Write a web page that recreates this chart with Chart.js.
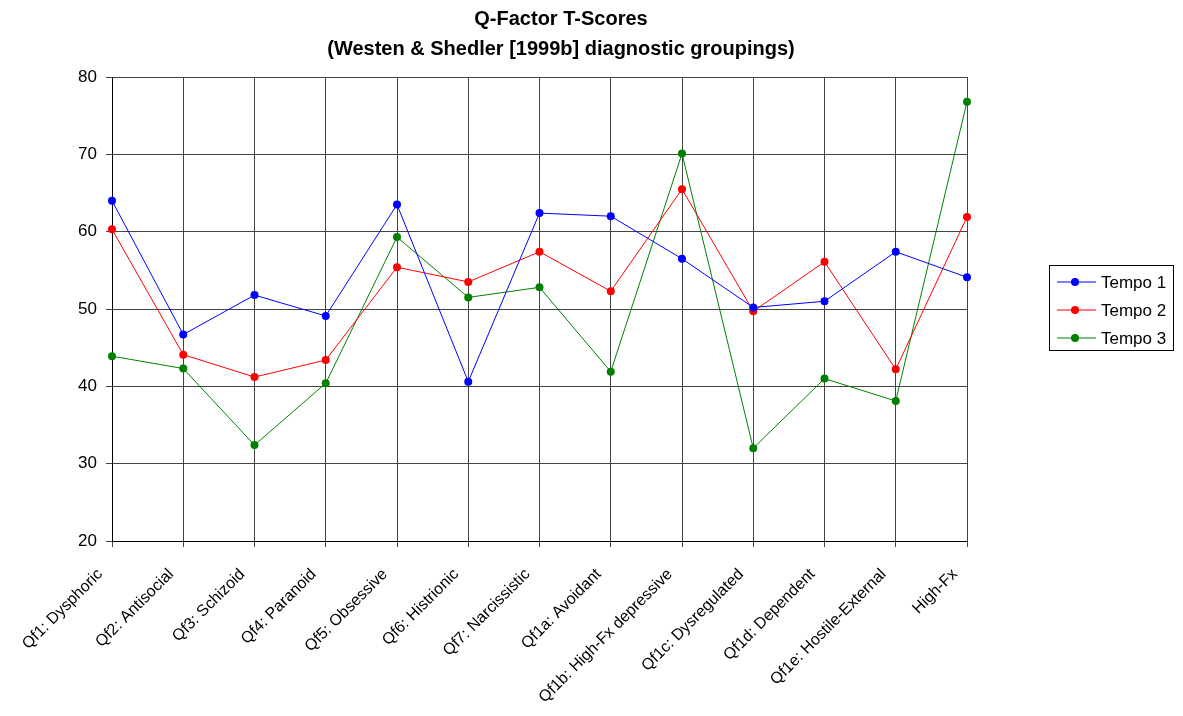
<!DOCTYPE html>
<html>
<head>
<meta charset="utf-8">
<script src="https://cdn.jsdelivr.net/npm/chart.js@4"></script>
<style>
    html, body { margin: 0; padding: 0; background: #fff; }
    #wrap { width: 1183px; height: 716px; }
</style>
</head>
<body>
<div id="wrap"><canvas id="qfactorChart" width="1183" height="716"></canvas></div>
<script>
const categories = [
    'Qf1: Dysphoric', 'Qf2: Antisocial', 'Qf3: Schizoid', 'Qf4: Paranoid',
    'Qf5: Obsessive', 'Qf6: Histrionic', 'Qf7: Narcissistic', 'Qf1a: Avoidant',
    'Qf1b: High-Fx depressive', 'Qf1c: Dysregulated', 'Qf1d: Dependent',
    'Qf1e: Hostile-External', 'High-Fx'
];
const tempo1 = [64.0, 46.7, 51.8, 49.1, 63.5, 40.6, 62.4, 62.0, 56.5, 50.2, 51.0, 57.4, 54.1];
const tempo2 = [60.3, 44.1, 41.2, 43.4, 55.4, 53.5, 57.4, 52.3, 65.5, 49.7, 56.1, 42.2, 61.9];
const tempo3 = [43.9, 42.3, 32.4, 40.4, 59.3, 51.5, 52.8, 41.9, 70.1, 32.0, 41.0, 38.1, 76.8];
const seriesNames = ['Tempo 1', 'Tempo 2', 'Tempo 3'];
const seriesColors = ['#0000ff', '#ff0000', '#008000'];
const titleLines = ['Q-Factor T-Scores', '(Westen & Shedler [1999b] diagnostic groupings)'];

const FONT = '"Liberation Sans", Arial, sans-serif';

// title drawn by hand so it sits where the original does
const titlePlugin = {
    id: 'manualTitle',
    afterDraw(chart) {
        const c = chart.ctx;
        c.save();
        c.fillStyle = '#000';
        c.font = 'bold 20px ' + FONT;
        c.textAlign = 'center';
        c.textBaseline = 'middle';
        c.fillText(titleLines[0], 561, 19);
        c.fillText(titleLines[1], 561, 49);
        c.restore();
    }
};

// boxed legend on the right, line + dot markers
const boxLegend = {
    id: 'boxLegend',
    afterDraw(chart) {
        const c = chart.ctx;
        const x0 = 1049.5, y0 = 265.5, w = 124, h = 85;
        c.save();
        c.strokeStyle = '#000';
        c.lineWidth = 1;
        c.strokeRect(x0, y0, w, h);
        c.font = '17px ' + FONT;
        c.textBaseline = 'middle';
        c.textAlign = 'left';
        chart.data.datasets.forEach((ds, i) => {
            const y = 282 + i * 28;
            c.strokeStyle = ds.borderColor;
            c.beginPath();
            c.moveTo(1057, y);
            c.lineTo(1096, y);
            c.stroke();
            c.fillStyle = ds.backgroundColor;
            c.beginPath();
            c.arc(1075, y, 4, 0, Math.PI * 2);
            c.fill();
            c.fillStyle = '#000';
            c.fillText(ds.label, 1101, y + 1);
        });
        c.restore();
    }
};

function makeDataset(label, values, color) {
    return {
        label: label,
        data: values,
        borderColor: color,
        backgroundColor: color,
        borderWidth: 1,
        pointRadius: 4,
        pointHoverRadius: 4,
        pointBorderWidth: 0,
        tension: 0
    };
}

const ctx = document.getElementById('qfactorChart').getContext('2d');

new Chart(ctx, {
    type: 'line',
    data: {
        labels: categories,
        datasets: [
            makeDataset(seriesNames[0], tempo1, seriesColors[0]),
            makeDataset(seriesNames[1], tempo2, seriesColors[1]),
            makeDataset(seriesNames[2], tempo3, seriesColors[2])
        ]
    },
    options: {
        responsive: false,
        animation: false,
        layout: {
            padding: { top: 77, right: 216, left: 0, bottom: 0 }
        },
        plugins: {
            legend: { display: false },
            title: { display: false },
            tooltip: { enabled: false }
        },
        scales: {
            x: {
                offset: false,
                grid: {
                    color: '#444',
                    lineWidth: 1,
                    tickLength: 6,
                    offset: false
                },
                border: { color: '#000', width: 1 },
                ticks: {
                    color: '#000',
                    font: { family: FONT, size: 16 },
                    minRotation: 45,
                    maxRotation: 45,
                    autoSkip: false,
                    padding: 18,
                    labelOffset: -12
                },
                afterFit(scale) { scale.height = 175; }
            },
            y: {
                min: 20,
                max: 80,
                ticks: {
                    stepSize: 10,
                    color: '#000',
                    font: { family: FONT, size: 17 },
                    padding: 9
                },
                grid: {
                    color: '#444',
                    lineWidth: 1,
                    tickLength: 6
                },
                border: { color: '#000', width: 1 },
                afterFit(scale) { scale.width = 112; }
            }
        }
    },
    plugins: [titlePlugin, boxLegend]
});
</script>
</body>
</html>
